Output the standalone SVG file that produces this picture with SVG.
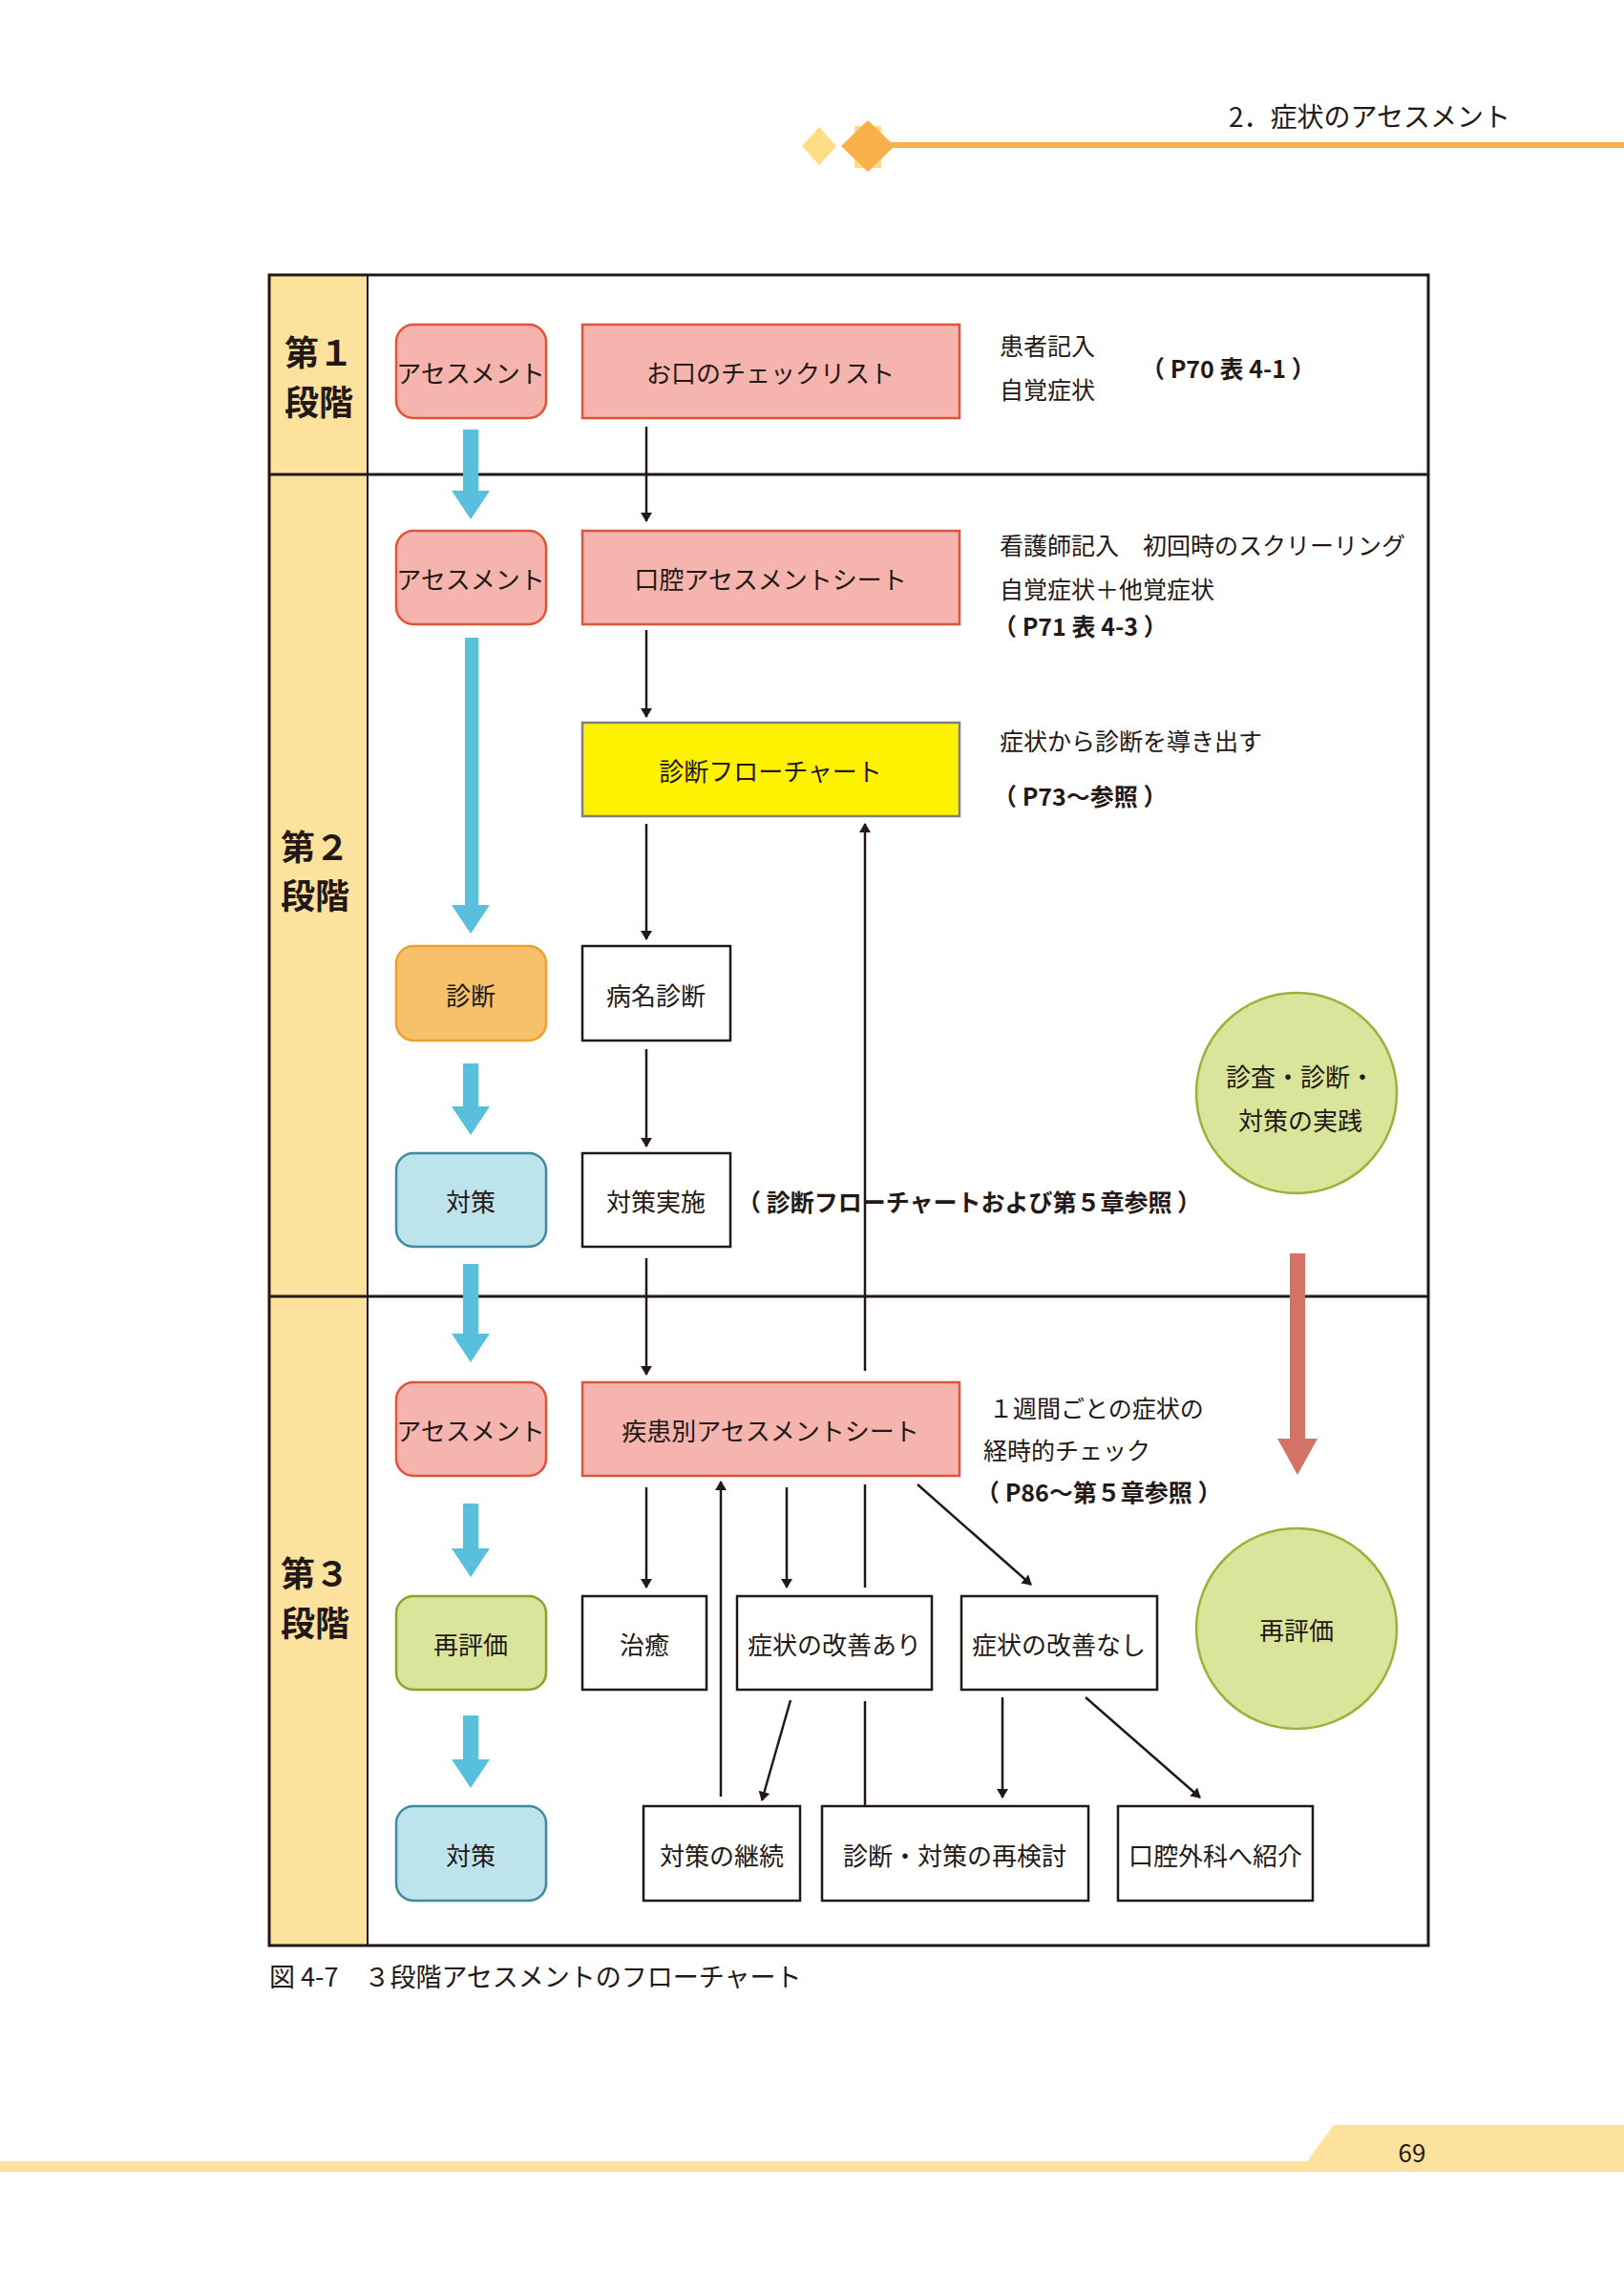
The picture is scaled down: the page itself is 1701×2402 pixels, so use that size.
<svg xmlns="http://www.w3.org/2000/svg" width="1701" height="2402" viewBox="0 0 1701 2402">
<style>
text{font-family:"Noto Sans CJK JP","Noto Sans",sans-serif;fill:#231815}
.b{font-size:26px;text-anchor:middle;dominant-baseline:central}
.s{font-size:25px}
.bold{font-weight:bold}
.stg{font-size:36px;font-weight:bold}
.pink{fill:#f5b4ad;stroke:#e0543a;stroke-width:2.5}
.wb{fill:#fff;stroke:#231815;stroke-width:2.5}
.ln{stroke:#231815;stroke-width:2.5;fill:none}
.blue{fill:#58c0dc}
</style>
<defs>
<marker id="ah" markerWidth="10" markerHeight="16" refX="9" refY="8" orient="auto" markerUnits="userSpaceOnUse" viewBox="0 0 10 16"><path d="M0,2 L10,8 L0,14 Z" fill="#231815"/></marker>
</defs>
<g id="header">
<text x="1287" y="133" font-size="28" style="font-family:'Noto Sans CJK JP',sans-serif">2．症状のアセスメント</text>
<rect x="900" y="149" width="801" height="6" fill="#f7b04a"/>
<path d="M858,133 L876,153 L858,173 L840,153 Z" fill="#fddd85"/>
<rect x="895" y="132" width="28" height="44" fill="#fddd85"/>
<path d="M909,126 L937,153 L909,180 L881,153 Z" fill="#f7b04a"/>
</g>
<g id="frame">
<rect x="282" y="288" width="103" height="1750" fill="#fde29d"/>
<rect x="282" y="288" width="1214" height="1750" fill="none" stroke="#231815" stroke-width="3"/>
<line x1="385" y1="288" x2="385" y2="2038" stroke="#231815" stroke-width="2"/>
<line x1="282" y1="497" x2="1496" y2="497" stroke="#231815" stroke-width="3"/>
<line x1="282" y1="1358" x2="1496" y2="1358" stroke="#231815" stroke-width="3"/>
<text class="stg" x="298" y="383">第１</text><text class="stg" x="298" y="435">段階</text>
<text class="stg" x="294" y="901">第２</text><text class="stg" x="294" y="952">段階</text>
<text class="stg" x="294" y="1662">第３</text><text class="stg" x="294" y="1714">段階</text>
</g>
<g id="connectors">
<g class="blue">
<path d="M485,450 h16 v64 h12 l-20,30 l-20,-30 h12 Z"/>
<path d="M487,668 h14 v280 h12 l-20,30 l-20,-30 h14 Z"/>
<path d="M485,1114 h16 v45 h12 l-20,30 l-20,-30 h12 Z"/>
<path d="M485,1324 h16 v73 h12 l-20,30 l-20,-30 h12 Z"/>
<path d="M485,1575 h16 v47 h12 l-20,30 l-20,-30 h12 Z"/>
<path d="M485,1797 h16 v46 h12 l-20,30 l-20,-30 h12 Z"/>
</g>
<path d="M1351,1313 h16 v194 h13 l-21,38 l-21,-38 h13 Z" fill="#d27365"/>
<line class="ln" x1="677" y1="447" x2="677" y2="546" marker-end="url(#ah)"/>
<line class="ln" x1="677" y1="660" x2="677" y2="751" marker-end="url(#ah)"/>
<line class="ln" x1="677" y1="863" x2="677" y2="984" marker-end="url(#ah)"/>
<line class="ln" x1="677" y1="1099" x2="677" y2="1201" marker-end="url(#ah)"/>
<line class="ln" x1="677" y1="1318" x2="677" y2="1440" marker-end="url(#ah)"/>
<line class="ln" x1="906" y1="1436" x2="906" y2="863" marker-end="url(#ah)"/>
<line class="ln" x1="677" y1="1558" x2="677" y2="1663" marker-end="url(#ah)"/>
<line class="ln" x1="755" y1="1882" x2="755" y2="1552" marker-end="url(#ah)"/>
<line class="ln" x1="824" y1="1558" x2="824" y2="1663" marker-end="url(#ah)"/>
<line class="ln" x1="906" y1="1555" x2="906" y2="1663"/>
<line class="ln" x1="961" y1="1555" x2="1080" y2="1660" marker-end="url(#ah)"/>
<line class="ln" x1="828" y1="1781" x2="798" y2="1886" marker-end="url(#ah)"/>
<line class="ln" x1="906" y1="1782" x2="906" y2="1892"/>
<line class="ln" x1="1050" y1="1778" x2="1050" y2="1883" marker-end="url(#ah)"/>
<line class="ln" x1="1137" y1="1778" x2="1257" y2="1883" marker-end="url(#ah)"/>
</g>
<g id="n1a"><rect class="pink" x="415" y="340" width="157" height="98" rx="18"/><text class="b" x="493" y="389">アセスメント</text></g>
<g id="n1b"><rect class="pink" x="610" y="340" width="395" height="98"/><text class="b" x="807" y="389">お口のチェックリスト</text></g>
<g id="t1"><text class="s" x="1047" y="372">患者記入</text><text class="s" x="1047" y="418">自覚症状</text><text class="s bold" x="1195" y="396">（ P70 表 4-1 ）</text></g>
<g id="n2a"><rect class="pink" x="415" y="556" width="157" height="98" rx="18"/><text class="b" x="493" y="605">アセスメント</text></g>
<g id="n2b"><rect class="pink" x="610" y="556" width="395" height="98"/><text class="b" x="807" y="605">口腔アセスメントシート</text></g>
<g id="t2"><text class="s" x="1047" y="581">看護師記入　初回時のスクリーリング</text><text class="s" x="1047" y="627">自覚症状＋他覚症状</text><text class="s bold" x="1040" y="666">（ P71 表 4-3 ）</text></g>
<g id="n2c"><rect x="610" y="757" width="395" height="98" fill="#fff200" stroke="#808080" stroke-width="2.5"/><text class="b" x="807" y="806">診断フローチャート</text></g>
<g id="t3"><text class="s" x="1047" y="786">症状から診断を導き出す</text><text class="s bold" x="1040" y="844">（ P73～参照 ）</text></g>
<g id="n2d"><rect x="415" y="991" width="157" height="99" rx="18" fill="#f9c06b" stroke="#f0a030" stroke-width="2.5"/><text class="b" x="493" y="1041">診断</text></g>
<g id="n2e"><rect class="wb" x="610" y="991" width="155" height="99"/><text class="b" x="687" y="1041">病名診断</text></g>
<g id="n2f"><rect x="415" y="1208" width="157" height="98" rx="18" fill="#bde3ec" stroke="#3c8c9c" stroke-width="2.5"/><text class="b" x="493" y="1257">対策</text></g>
<g id="n2g"><rect class="wb" x="610" y="1208" width="155" height="98"/><text class="b" x="687" y="1257">対策実施</text></g>
<g id="t4"><text class="s bold" x="772" y="1269">（ 診断フローチャートおよび第５章参照 ）</text></g>
<g id="c1"><circle cx="1358" cy="1145" r="105" fill="#d9e59b" stroke="#9ab23a" stroke-width="2.5"/><text class="b" x="1362" y="1126">診査・診断・</text><text class="b" x="1362" y="1172">対策の実践</text></g>
<g id="n3a"><rect class="pink" x="415" y="1448" width="157" height="98" rx="18"/><text class="b" x="493" y="1497">アセスメント</text></g>
<g id="n3b"><rect class="pink" x="610" y="1448" width="395" height="98"/><text class="b" x="807" y="1497">疾患別アセスメントシート</text></g>
<g id="t5"><text class="s" x="1036" y="1485">１週間ごとの症状の</text><text class="s" x="1030" y="1529">経時的チェック</text><text class="s bold" x="1022" y="1573">（ P86～第５章参照 ）</text></g>
<g id="n3c"><rect x="415" y="1672" width="157" height="98" rx="18" fill="#d9e59b" stroke="#8aa32a" stroke-width="2.5"/><text class="b" x="493" y="1721">再評価</text></g>
<g id="n3d"><rect class="wb" x="610" y="1672" width="130" height="98"/><text class="b" x="675" y="1721">治癒</text></g>
<g id="n3e"><rect class="wb" x="772" y="1672" width="204" height="98"/><text class="b" x="874" y="1721">症状の改善あり</text></g>
<g id="n3f"><rect class="wb" x="1007" y="1672" width="205" height="98"/><text class="b" x="1109" y="1721">症状の改善なし</text></g>
<g id="c2"><circle cx="1358" cy="1706" r="105" fill="#d9e59b" stroke="#9ab23a" stroke-width="2.5"/><text class="b" x="1358" y="1706">再評価</text></g>
<g id="n3g"><rect x="415" y="1892" width="157" height="99" rx="18" fill="#bde3ec" stroke="#3c8c9c" stroke-width="2.5"/><text class="b" x="493" y="1942">対策</text></g>
<g id="n3h"><rect class="wb" x="674" y="1892" width="164" height="99"/><text class="b" x="756" y="1942">対策の継続</text></g>
<g id="n3i"><rect class="wb" x="861" y="1892" width="279" height="99"/><text class="b" x="1000" y="1942">診断・対策の再検討</text></g>
<g id="n3j"><rect class="wb" x="1171" y="1892" width="204" height="99"/><text class="b" x="1273" y="1942">口腔外科へ紹介</text></g>
<g id="caption"><text x="282" y="2081" font-size="27">図 4-7　３段階アセスメントのフローチャート</text></g>
<g id="footer">
<rect x="0" y="2264" width="1701" height="11" fill="#fde29d"/>
<path d="M1361,2275 L1397,2226 L1701,2226 L1701,2275 Z" fill="#fde29d"/>
<text x="1479" y="2265" font-size="26" text-anchor="middle">69</text>
</g>
</svg>
